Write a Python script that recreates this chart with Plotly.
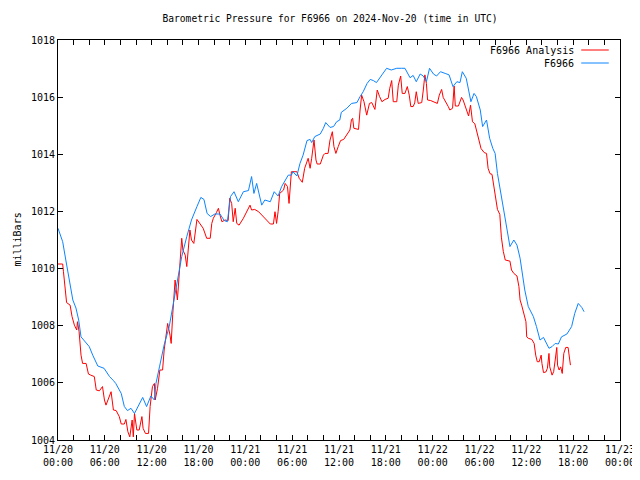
import pandas as pd
import plotly.graph_objects as go

# ---- data (hours after 2024-11-20 00:00 UTC, pressure in mb) ----
analysis_hours = [
    0.0, 0.6, 0.7, 0.95, 1.1, 1.55, 1.8, 2.1, 2.4, 2.5, 2.7, 2.95, 3.15, 3.6, 3.9, 4.2,
    4.65, 4.9, 5.3, 5.7, 5.95, 6.15, 6.6, 6.8, 7.1, 7.45, 7.85, 8.1, 8.5, 8.7, 8.95, 9.2,
    9.5, 9.65, 9.8, 10.1, 10.4, 10.75, 10.9, 11.2, 11.6, 11.8, 12.1, 12.35, 12.45, 12.75,
    13.05, 13.4, 13.6, 13.85, 14.05, 14.35, 14.5, 14.7, 15.0, 15.3, 15.55, 15.7, 15.85,
    16.0, 16.3, 16.5, 16.7, 16.9, 17.1, 17.4, 17.8, 18.2, 18.6, 19.05, 19.5, 19.7, 19.9,
    20.3, 20.55, 20.75, 21.0, 21.4, 21.8, 22.0, 22.25, 22.45, 22.7, 22.9, 23.2, 23.75,
    24.25, 24.6, 24.8, 25.2, 25.7, 26.1, 26.7, 27.2, 27.6, 27.8, 28.0, 28.2, 28.4, 28.9,
    29.1, 29.4, 29.6, 29.9, 30.6, 30.9, 31.3, 31.6, 32.05, 32.3, 32.5, 32.8, 33.05, 33.2,
    33.6, 34.0, 34.2, 34.6, 34.85, 35.15, 35.35, 35.6, 35.9, 36.2, 36.6, 37.0, 37.4, 37.6,
    37.75, 37.9, 38.5, 38.7, 38.9, 39.2, 39.55, 39.9, 40.2, 40.6, 40.9, 41.2, 41.5, 41.9,
    42.3, 42.5, 42.75, 42.95, 43.4, 43.6, 43.9, 44.1, 44.45, 44.75, 45.0, 45.2, 45.5, 45.7,
    45.9, 46.15, 46.6, 46.8, 47.0, 47.2, 47.35, 47.75, 48.3, 48.6, 48.85, 49.15, 49.35,
    49.7, 50.0, 50.2, 50.55, 50.75, 50.9, 51.3, 51.5, 51.7, 51.9, 52.3, 52.6, 52.85, 53.1,
    53.4, 53.8, 54.2, 54.6, 54.9, 55.1, 55.35, 55.6, 55.85, 56.05, 56.3, 56.6, 56.8, 57.05,
    57.3, 57.9, 58.1, 58.4, 58.8, 59.05, 59.2, 59.4, 59.7, 59.95, 60.05, 60.25, 60.7, 61.0,
    61.2, 61.4, 61.65, 61.9, 62.0, 62.2, 62.5, 62.7, 62.9, 63.0, 63.3, 63.5, 63.7, 63.9,
    64.0, 64.2, 64.4, 64.6, 64.8, 65.05, 65.35, 65.5, 65.65,
]
analysis_mb = [
    1010.16, 1010.16, 1009.89, 1009.19, 1008.81, 1008.72, 1008.32, 1008.02, 1007.85, 1008.14,
    1007.79, 1006.97, 1006.68, 1006.68, 1006.31, 1006.27, 1006.22, 1005.75, 1005.72, 1005.87,
    1005.40, 1005.22, 1005.52, 1005.69, 1005.05, 1005.03, 1004.82, 1004.56, 1004.56, 1004.72,
    1004.29, 1004.11, 1004.70, 1004.11, 1004.93, 1004.35, 1004.35, 1004.82, 1004.41, 1004.23,
    1004.23, 1005.17, 1005.87, 1005.98, 1005.40, 1005.81, 1006.45, 1006.45, 1007.15, 1007.73,
    1008.08, 1007.67, 1007.38, 1008.40, 1009.60, 1008.90, 1009.95, 1010.42, 1011.06, 1010.65,
    1010.47, 1010.07, 1010.77, 1011.35, 1011.00, 1010.88, 1011.72, 1011.58, 1011.41, 1011.06,
    1011.06, 1011.58, 1011.76, 1011.96, 1012.11, 1011.87, 1011.64, 1011.70, 1011.68, 1012.46,
    1012.28, 1011.64, 1012.11, 1011.58, 1011.52, 1011.76, 1012.05, 1012.22, 1012.05, 1012.07,
    1011.99, 1011.87, 1011.70, 1011.56, 1011.56, 1011.99, 1011.58, 1011.99, 1012.63, 1012.75,
    1012.98, 1012.87, 1012.28, 1013.39, 1013.39, 1013.16, 1013.02, 1013.51, 1013.86, 1013.51,
    1013.86, 1014.50, 1013.80, 1013.66, 1013.66, 1013.97, 1014.03, 1014.03, 1014.50, 1014.79,
    1014.27, 1014.03, 1014.27, 1014.48, 1014.52, 1014.67, 1014.85, 1015.22, 1015.26, 1014.91,
    1014.87, 1015.55, 1016.07, 1015.84, 1015.37, 1015.78, 1015.81, 1015.57, 1016.25, 1016.02,
    1015.84, 1015.92, 1015.96, 1016.31, 1016.58, 1015.84, 1015.84, 1016.42, 1016.74, 1016.13,
    1016.13, 1016.37, 1016.07, 1015.67, 1015.67, 1015.80, 1016.19, 1015.78, 1015.81, 1016.25,
    1016.78, 1016.48, 1015.90, 1015.88, 1015.81, 1015.78, 1016.07, 1016.27, 1015.99, 1015.84,
    1015.67, 1015.55, 1015.61, 1016.39, 1015.69, 1015.69, 1015.81, 1015.99, 1015.90, 1015.60,
    1015.34, 1015.72, 1015.14, 1015.07, 1014.62, 1014.20, 1014.06, 1014.03, 1013.51, 1013.32,
    1013.30, 1012.80, 1012.40, 1012.07, 1011.90, 1011.10, 1010.60, 1010.30, 1010.26, 1009.95,
    1009.83, 1009.74, 1009.37, 1008.90, 1008.72, 1008.43, 1008.14, 1007.61, 1007.56, 1007.52,
    1007.38, 1006.97, 1006.74, 1006.74, 1006.97, 1006.68, 1006.36, 1006.38, 1006.51, 1007.03,
    1006.56, 1006.27, 1006.39, 1006.80, 1007.24, 1006.62, 1006.45, 1006.56, 1006.33, 1007.03,
    1007.24, 1007.24, 1006.86, 1006.62,
]

station_hours = [
    0.0, 0.6, 1.0, 1.45, 1.9, 2.3, 2.65, 2.95, 3.6, 4.0, 4.45, 5.1, 5.9, 6.6, 7.1, 7.4,
    8.1, 8.5, 8.9, 9.35, 9.8, 10.2, 10.85, 11.35, 11.9, 12.35, 12.55, 13.0, 13.6, 14.25,
    14.7, 15.0, 15.2, 15.85, 16.5, 17.1, 17.8, 18.3, 18.7, 19.1, 19.55, 20.1, 20.75, 21.3,
    21.7, 22.1, 22.55, 23.1, 23.75, 24.4, 24.8, 25.1, 25.45, 25.9, 26.1, 26.5, 27.2, 27.7,
    28.2, 28.65, 29.1, 29.5, 29.9, 30.1, 30.6, 31.0, 31.4, 31.9, 32.3, 32.5, 32.9, 33.6,
    34.0, 34.3, 34.85, 35.3, 35.7, 36.1, 36.3, 37.0, 37.6, 38.3, 38.7, 39.1, 39.6, 40.0,
    40.4, 40.8, 41.5, 42.1, 42.7, 43.4, 44.0, 44.45, 45.1, 45.5, 45.9, 46.4, 46.8, 47.2,
    47.6, 48.1, 48.5, 49.0, 49.6, 50.1, 50.6, 51.1, 51.5, 51.8, 52.3, 52.7, 52.9, 53.3,
    53.6, 54.1, 54.4, 54.9, 55.3, 55.7, 56.0, 56.3, 56.6, 57.0, 57.5, 57.9, 58.4, 58.8,
    59.2, 59.4, 59.8, 60.25, 60.9, 61.3, 61.75, 62.2, 62.5, 62.9, 63.3, 63.7, 64.1, 64.5,
    65.2, 65.8, 66.2, 66.65, 67.1, 67.4,
]
station_mb = [
    1011.41, 1010.94, 1010.30, 1009.60, 1008.90, 1008.62, 1008.20, 1007.61, 1007.39, 1007.27,
    1006.97, 1006.59, 1006.51, 1006.22, 1006.08, 1005.98, 1005.63, 1005.17, 1005.03, 1005.11,
    1004.93, 1005.14, 1005.49, 1005.17, 1005.54, 1005.40, 1005.98, 1006.56, 1007.33, 1007.97,
    1008.66, 1009.10, 1009.37, 1010.42, 1011.12, 1011.70, 1012.17, 1012.49, 1012.42, 1011.93,
    1011.82, 1011.91, 1011.91, 1011.68, 1011.64, 1012.52, 1012.69, 1012.34, 1012.69, 1012.73,
    1013.22, 1012.63, 1012.98, 1012.52, 1012.22, 1012.40, 1012.34, 1012.69, 1012.54, 1012.87,
    1013.08, 1013.27, 1013.27, 1013.39, 1013.24, 1013.68, 1013.97, 1014.48, 1014.52, 1014.41,
    1014.62, 1014.71, 1014.91, 1015.11, 1014.94, 1014.97, 1015.14, 1015.20, 1015.47, 1015.61,
    1015.78, 1015.81, 1016.02, 1016.19, 1016.48, 1016.62, 1016.58, 1016.51, 1016.78, 1017.01,
    1016.95, 1017.01, 1017.01, 1017.01, 1016.68, 1016.76, 1016.54, 1016.81, 1016.74, 1016.54,
    1017.01, 1016.81, 1016.74, 1016.89, 1016.83, 1016.78, 1016.37, 1016.54, 1016.51, 1016.89,
    1016.66, 1016.13, 1015.84, 1016.13, 1016.02, 1015.55, 1014.97, 1015.20, 1014.56, 1014.21,
    1014.03, 1013.33, 1012.87, 1012.28, 1011.47, 1010.77, 1011.00, 1010.82, 1010.36, 1009.95,
    1009.25, 1008.67, 1008.32, 1007.97, 1007.50, 1007.59, 1007.44, 1007.21, 1007.27, 1007.38,
    1007.36, 1007.61, 1007.71, 1007.97, 1008.43, 1008.78, 1008.64, 1008.49,
]

series_names = ["F6966 Analysis", "F6966"]
series_colors = ["#ff0000", "#0b84ff"]
start = pd.Timestamp("2024-11-20 00:00")
end = pd.Timestamp("2024-11-23 00:00")
y_ticks = [1004, 1006, 1008, 1010, 1012, 1014, 1016, 1018]

FONT = "DejaVu Sans Mono"

def to_time(hours):
    return start + pd.to_timedelta(pd.Series(hours), unit="h")

fig = go.Figure()
fig.add_trace(go.Scatter(x=to_time(analysis_hours), y=analysis_mb, mode="lines",
                         name=series_names[0], line=dict(color=series_colors[0], width=1)))
fig.add_trace(go.Scatter(x=to_time(station_hours), y=station_mb, mode="lines",
                         name=series_names[1], line=dict(color=series_colors[1], width=1)))

# the page body has an 8px default margin, so the figure is sized/offset to compensate
fig.update_layout(
    width=632, height=472,
    margin=dict(l=50, r=20, t=32, b=40, pad=0, autoexpand=False),
    paper_bgcolor="white", plot_bgcolor="white",
    showlegend=False,
    font=dict(family=FONT, size=10, color="black"),
    title=dict(text="Barometric Pressure for F6966 on 2024-Nov-20 (time in UTC)",
               x=0.484, xref="paper", xanchor="center", y=1 - 11 / 472, yref="container",
               yanchor="middle", font=dict(family=FONT, size=9.6)),
)

fig.update_xaxes(
    type="date", range=[start, end], automargin=False,
    tick0=start, dtick=6 * 3600 * 1000, tickformat="%m/%d<br>%H:%M",
    ticks="inside", ticklen=5, tickcolor="black", tickwidth=1,
    showline=True, linecolor="black", linewidth=1, mirror="allticks",
    showgrid=False, zeroline=False,
    minor=dict(dtick=2 * 3600 * 1000, ticks="inside", ticklen=5, tickcolor="black", showgrid=False),
    tickfont=dict(family=FONT, size=10),
)
fig.update_yaxes(
    range=[1004, 1018], tickvals=y_ticks, ticktext=[str(v) for v in y_ticks],
    automargin=False,
    ticks="inside", ticklen=5, tickcolor="black", tickwidth=1,
    showline=True, linecolor="black", linewidth=1, mirror="allticks",
    showgrid=False, zeroline=False,
    tickfont=dict(family=FONT, size=10),
)

# y-axis label (kept fully inside the figure's left edge)
fig.add_annotation(text="milliBars", textangle=-90, xref="paper", yref="paper",
                   x=-49 / 562, y=0.5, xanchor="left", yanchor="middle", showarrow=False,
                   font=dict(family=FONT, size=10, color="black"))

# gnuplot-style key in the top-right corner (text right-aligned, sample to the right)
key_rows = [0.975, 0.9425]
for name, color, yy in zip(series_names, series_colors, key_rows):
    fig.add_annotation(x=0.921, y=yy, xref="paper", yref="paper", text=name,
                       showarrow=False, xanchor="right", yanchor="middle",
                       font=dict(family=FONT, size=10, color="black"))
    fig.add_shape(type="line", xref="paper", yref="paper", x0=0.931, x1=0.980,
                  y0=yy, y1=yy, line=dict(color=color, width=1))

fig.write_html("out.html")
